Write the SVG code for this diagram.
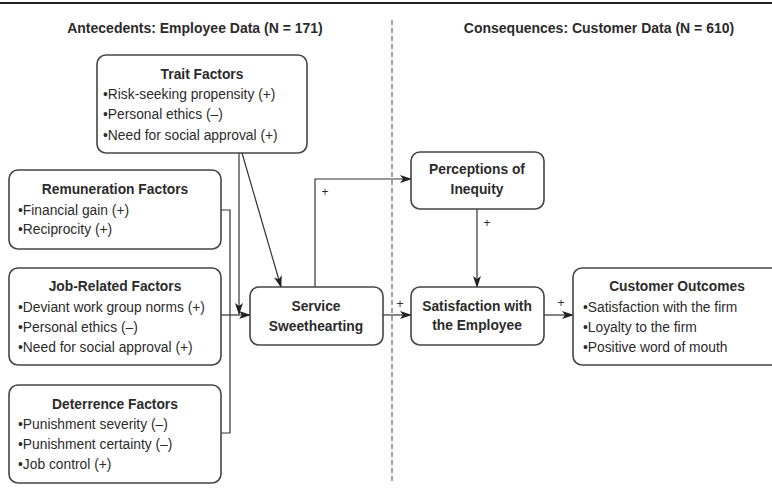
<svg xmlns="http://www.w3.org/2000/svg" width="772" height="496" viewBox="0 0 772 496">
<defs>
<style>
text{font-family:"Liberation Sans",Arial,sans-serif;fill:#2b2b2b;}
.h{font-size:14px;font-weight:bold;}
.t{font-size:13.8px;font-weight:bold;text-anchor:middle;}
.b{font-size:13.8px;}
.p{font-size:12px;}
.box{fill:#fff;stroke:#444;stroke-width:1.6;}
.c{fill:none;stroke:#333;stroke-width:1.2;}
</style>
<marker id="ah" markerWidth="12" markerHeight="8" refX="11" refY="4" orient="auto" markerUnits="userSpaceOnUse">
<path d="M0,0 L12,4 L0,8 L3,4 Z" fill="#222"/>
</marker>
</defs>
<rect width="772" height="496" fill="#fff"/>
<line x1="0" y1="3" x2="772" y2="3" stroke="#222" stroke-width="2"/>
<line x1="392" y1="20" x2="392" y2="484" stroke="#666" stroke-width="1.2" stroke-dasharray="5,3"/>
<text class="h" x="195" y="33" text-anchor="middle">Antecedents: Employee Data (N = 171)</text>
<text class="h" x="599" y="33" text-anchor="middle">Consequences: Customer Data (N = 610)</text>

<g id="connectors">
<polyline class="c" points="221,210 230,210 230,433 221,433"/>
<line class="c" x1="221" y1="315" x2="250" y2="315" marker-end="url(#ah)"/>
<line class="c" x1="239" y1="153" x2="239" y2="314" marker-end="url(#ah)"/>
<line class="c" x1="242" y1="153" x2="281" y2="287" marker-end="url(#ah)"/>
<polyline class="c" points="315,287 315,179 411,179" marker-end="url(#ah)"/>
<line class="c" x1="383" y1="315" x2="411" y2="315" marker-end="url(#ah)"/>
<line class="c" x1="477" y1="209" x2="477" y2="287" marker-end="url(#ah)"/>
<line class="c" x1="544" y1="315" x2="573" y2="315" marker-end="url(#ah)"/>
<text class="p" x="325" y="196" text-anchor="middle">+</text>
<text class="p" x="400" y="308" text-anchor="middle">+</text>
<text class="p" x="487" y="227" text-anchor="middle">+</text>
<text class="p" x="561" y="307" text-anchor="middle">+</text>
</g>

<g id="trait">
<rect class="box" x="97" y="55" width="210" height="98" rx="9"/>
<text class="t" x="202" y="79">Trait Factors</text>
<text class="b" x="103" y="99">•Risk-seeking propensity (+)</text>
<text class="b" x="103" y="119">•Personal ethics (–)</text>
<text class="b" x="103" y="140">•Need for social approval (+)</text>
</g>

<g id="remuneration">
<rect class="box" x="9" y="170" width="212" height="79" rx="9"/>
<text class="t" x="115" y="194">Remuneration Factors</text>
<text class="b" x="18" y="215">•Financial gain (+)</text>
<text class="b" x="18" y="234">•Reciprocity (+)</text>
</g>

<g id="jobrelated">
<rect class="box" x="9" y="268" width="212" height="97" rx="9"/>
<text class="t" x="115" y="291">Job-Related Factors</text>
<text class="b" x="18" y="312">•Deviant work group norms (+)</text>
<text class="b" x="18" y="332">•Personal ethics (–)</text>
<text class="b" x="18" y="352">•Need for social approval (+)</text>
</g>

<g id="deterrence">
<rect class="box" x="9" y="385" width="212" height="98" rx="9"/>
<text class="t" x="115" y="409">Deterrence Factors</text>
<text class="b" x="18" y="429">•Punishment severity (–)</text>
<text class="b" x="18" y="449">•Punishment certainty (–)</text>
<text class="b" x="18" y="469">•Job control (+)</text>
</g>

<g id="sweethearting">
<rect class="box" x="250" y="287" width="133" height="58" rx="9"/>
<text class="t" x="316" y="311">Service</text>
<text class="t" x="316" y="331">Sweethearting</text>
</g>

<g id="inequity">
<rect class="box" x="411" y="152" width="133" height="57" rx="9"/>
<text class="t" x="477" y="174">Perceptions of</text>
<text class="t" x="477" y="194">Inequity</text>
</g>

<g id="satisfaction">
<rect class="box" x="411" y="287" width="133" height="58" rx="9"/>
<text class="t" x="477" y="311">Satisfaction with</text>
<text class="t" x="477" y="330">the Employee</text>
</g>

<g id="outcomes">
<rect class="box" x="573" y="268" width="210" height="97" rx="9"/>
<text class="t" x="677" y="291">Customer Outcomes</text>
<text class="b" x="583" y="312">•Satisfaction with the firm</text>
<text class="b" x="583" y="332">•Loyalty to the firm</text>
<text class="b" x="583" y="352">•Positive word of mouth</text>
</g>
</svg>
